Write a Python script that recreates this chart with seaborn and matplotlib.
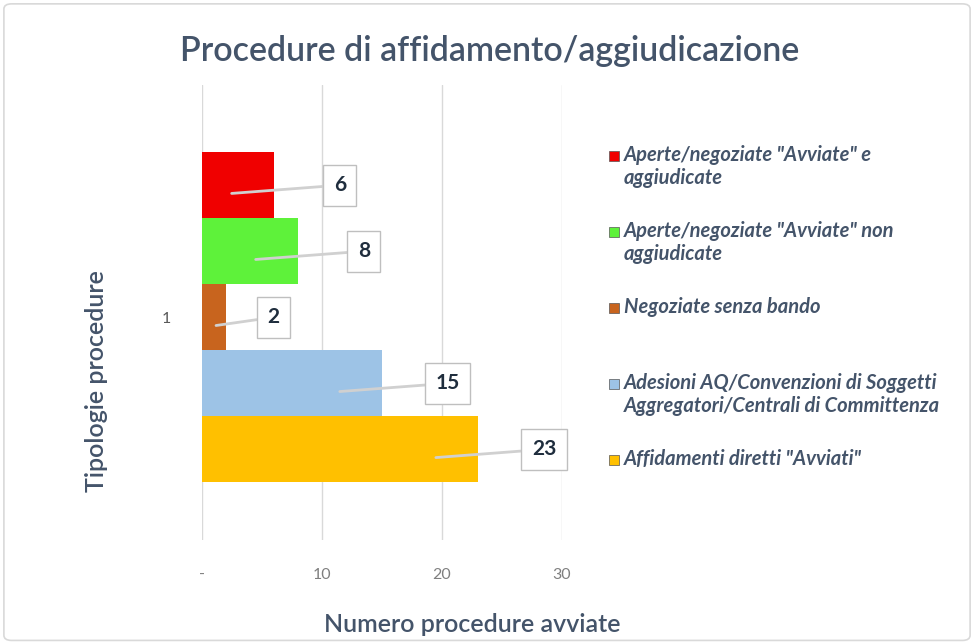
import pandas as pd
import matplotlib
matplotlib.use("Agg")
import matplotlib.pyplot as plt
import seaborn as sns
from matplotlib.patches import Rectangle, FancyBboxPatch
from matplotlib.ticker import FuncFormatter

# data
series = [
    'Aperte/negoziate "Avviate" e\naggiudicate',
    'Aperte/negoziate "Avviate" non\naggiudicate',
    'Negoziate senza bando',
    'Adesioni AQ/Convenzioni di Soggetti\nAggregatori/Centrali di Committenza',
    'Affidamenti diretti "Avviati"',
]
values = [6, 8, 2, 15, 23]
colors = ['#F00000', '#5EF23A', '#C8641E', '#9DC3E6', '#FFC000']
category = ['1'] * len(values)
x_ticks = [0, 10, 20, 30]

df = pd.DataFrame({'Tipologia': category, 'Serie': series, 'Valore': values})

sns.set_theme(style='white')
plt.rcParams['font.family'] = ['Lato', 'DejaVu Sans']
text_col = '#44546A'

fig = plt.figure(figsize=(9.74, 6.43), dpi=100)
fig.patches.append(FancyBboxPatch((0.004, 0.004), 0.992, 0.99, boxstyle='round,pad=0,rounding_size=0.008',
                                  transform=fig.transFigure, fill=False, edgecolor='#D9D9D9', lw=1.2))
ax = fig.add_axes([0.207, 0.16, 0.37, 0.708])

sns.barplot(data=df, y='Tipologia', x='Valore', hue='Serie', hue_order=series,
            palette=colors, orient='h', width=0.8, ax=ax, legend=False,
            edgecolor='none', saturation=1)

ax.set_xlim(0, 30)
ax.set_ylim(0.54, -0.563)
ax.set_xticks(x_ticks)
ax.xaxis.set_major_formatter(FuncFormatter(lambda v, p: '-' if v == 0 else f'{v:.0f}'))
ax.grid(axis='x', color='#D9D9D9', lw=1)
ax.set_axisbelow(True)
for s in ax.spines.values():
    s.set_visible(False)
ax.tick_params(axis='x', colors='#7F7F7F', labelsize=11.5, pad=20, length=0)
ax.tick_params(axis='y', colors='#595959', labelsize=11.5, pad=22, length=0)

ax.set_xlabel('Numero procedure avviate', fontsize=18, color=text_col, fontweight='semibold')
ax.xaxis.set_label_coords(0.75, -0.16)
ax.set_ylabel('Tipologie procedure', fontsize=18, color=text_col, fontweight='semibold')
ax.yaxis.set_label_coords(-0.26, 0.35)

# data labels with leader lines
for bar, val in zip(ax.patches, values):
    yc = bar.get_y() + bar.get_height() / 2
    ax.annotate(str(val), xy=(max(val - 3.5, 1.2), yc + 0.02), xytext=(val + min(5.5, val + 2), yc),
                ha='center', va='center', fontsize=15, fontweight='bold', color='#1F2D3D',
                bbox=dict(boxstyle='square,pad=0.5', fc='white', ec='#BFBFBF', lw=1),
                arrowprops=dict(arrowstyle='-', color='#D0D0D0', lw=2, shrinkA=0, shrinkB=0))

fig.text(0.503, 0.92, 'Procedure di affidamento/aggiudicazione', ha='center', va='center',
         fontsize=24.5, color=text_col, fontweight='semibold')

# legend drawn on the right, one fixed slot per entry
for i, (lab, c) in enumerate(zip(series, colors)):
    ytop = 1 - (145 + 76 * i) / 643
    fig.patches.append(Rectangle((609 / 974, ytop - 16 / 643), 10 / 974, 10 / 643,
                                 transform=fig.transFigure, fc=c, ec='#555555', lw=0.5))
    fig.text(624 / 974, ytop, lab, ha='left', va='top', fontsize=14.5, style='italic',
             fontweight='bold', color=text_col, linespacing=1.2)

fig.savefig('out.png', dpi=100)
